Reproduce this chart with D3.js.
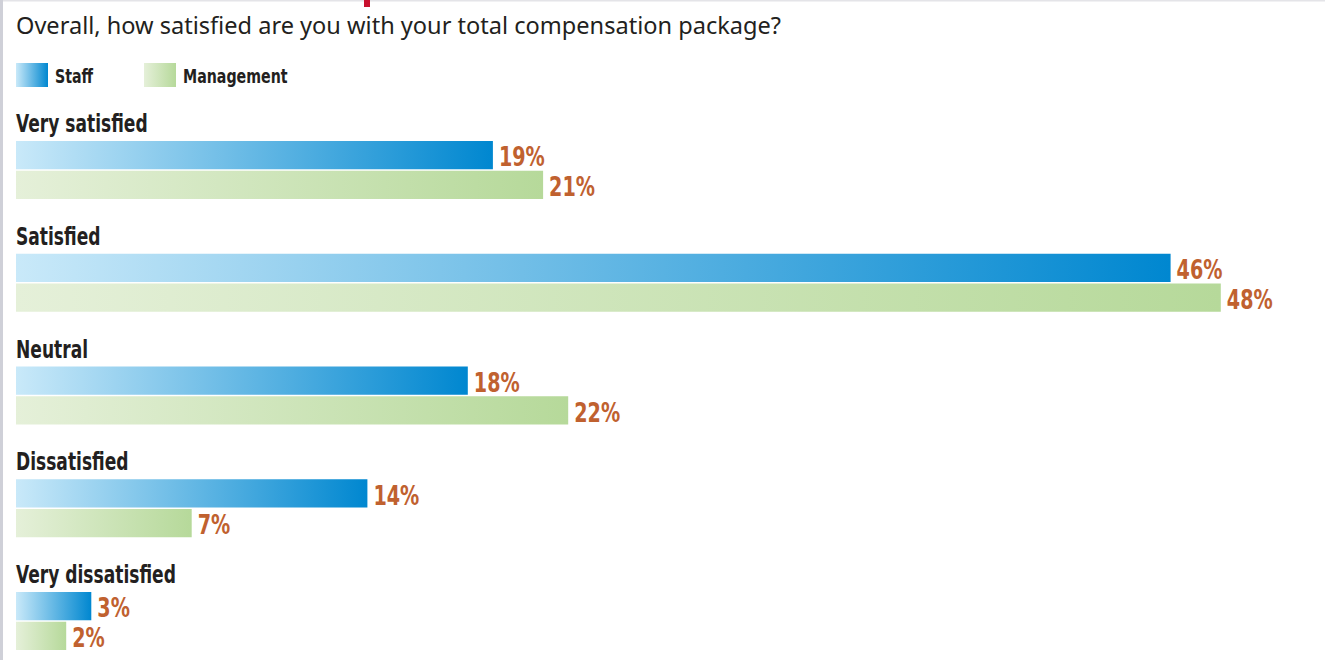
<!DOCTYPE html>
<html>
<head>
<meta charset="utf-8">
<script src="https://cdn.jsdelivr.net/npm/d3@7"></script>
<style>
  html, body { margin: 0; padding: 0; background: #ffffff; }
  svg { display: block; }
  .cond { font-family: "DejaVu Sans Condensed", "DejaVu Sans", sans-serif; font-weight: bold; font-stretch: condensed; }
</style>
</head>
<body>
<script>
// Survey results: satisfaction with total compensation package
const categories = ["Very satisfied", "Satisfied", "Neutral", "Dissatisfied", "Very dissatisfied"];
const seriesNames = ["Staff", "Management"];
const staffValues = [19, 46, 18, 14, 3];
const managementValues = [21, 48, 22, 7, 2];
const titleText = "Overall, how satisfied are you with your total compensation package?";

const W = 1325, H = 660;
const svg = d3.select("body").append("svg").attr("width", W).attr("height", H);

// Narrow bold text: condensed face squeezed further horizontally
function narrowText(sel, px, py, squeeze) {
  return sel.attr("transform", d => {
    const X = typeof px === "function" ? px(d) : px;
    const Y = typeof py === "function" ? py(d) : py;
    return `translate(${X},${Y}) scale(${squeeze},1)`;
  });
}

// Gradients: each bar fades from a pale tint on the left to full colour on the right
const defs = svg.append("defs");
const gradStops = {
  Staff: ["#c9e9f9", "#0087d0"],
  Management: ["#e5f0d9", "#b6d99a"]
};
seriesNames.forEach(name => {
  const g = defs.append("linearGradient").attr("id", "grad-" + name)
    .attr("x1", "0%").attr("x2", "100%").attr("y1", "0%").attr("y2", "0%");
  g.append("stop").attr("offset", "0%").attr("stop-color", gradStops[name][0]);
  g.append("stop").attr("offset", "100%").attr("stop-color", gradStops[name][1]);
});

// Frame edges
svg.append("rect").attr("x", 0).attr("y", 0).attr("width", W).attr("height", 1.5).attr("fill", "#e4e4e8");
svg.append("rect").attr("x", 0).attr("y", 0).attr("width", 3).attr("height", H).attr("fill", "#cfd0d8");
// Red accent at the top edge
svg.append("rect").attr("x", 364).attr("y", 0).attr("width", 6).attr("height", 7).attr("fill", "#c8102e");

// Title
svg.append("text")
  .attr("x", 16).attr("y", 34)
  .attr("font-family", "'Noto Sans', 'Open Sans', sans-serif")
  .attr("font-size", 23)
  .attr("fill", "#231f20")
  .attr("textLength", 765)
  .attr("lengthAdjust", "spacingAndGlyphs")
  .text(titleText);

// Legend
const legendX = { Staff: 16, Management: 144 };
const legend = svg.append("g").selectAll("g").data(seriesNames).join("g")
  .attr("transform", d => `translate(${legendX[d]},63)`);
legend.append("rect").attr("width", 32).attr("height", 24).attr("fill", d => `url(#grad-${d})`);
legend.append("text").attr("class", "cond")
  .attr("font-size", 20).attr("fill", "#231f20")
  .call(narrowText, 39, 19.5, 0.79)
  .text(d => d);

// Scales
const x = d3.scaleLinear().domain([0, 100]).range([16, 16 + 2510]);
const y = d3.scalePoint().domain(categories).range([141, 592]);
const inner = d3.scaleBand().domain(seriesNames).range([0, 58]).paddingInner(0.05);

const rows = categories.map((c, i) => ({
  category: c,
  values: [
    { series: "Staff", value: staffValues[i] },
    { series: "Management", value: managementValues[i] }
  ]
}));

const group = svg.append("g").selectAll("g").data(rows).join("g")
  .attr("transform", d => `translate(0,${y(d.category)})`);

// Category labels
group.append("text").attr("class", "cond")
  .attr("font-size", 25).attr("fill", "#231f20")
  .call(narrowText, 16, -9, 0.76)
  .text(d => d.category);

// Bars
group.selectAll("rect").data(d => d.values).join("rect")
  .attr("x", x(0))
  .attr("y", d => inner(d.series))
  .attr("width", d => x(d.value) - x(0))
  .attr("height", inner.bandwidth())
  .attr("fill", d => `url(#grad-${d.series})`);

// Value labels
group.selectAll("text.val").data(d => d.values).join("text")
  .attr("class", "val cond")
  .attr("font-size", 26).attr("fill", "#c0612f")
  .call(narrowText, d => x(d.value) + 6, d => inner(d.series) + inner.bandwidth() - 3, 0.82)
  .text(d => d.value + "%");
</script>
</body>
</html>
